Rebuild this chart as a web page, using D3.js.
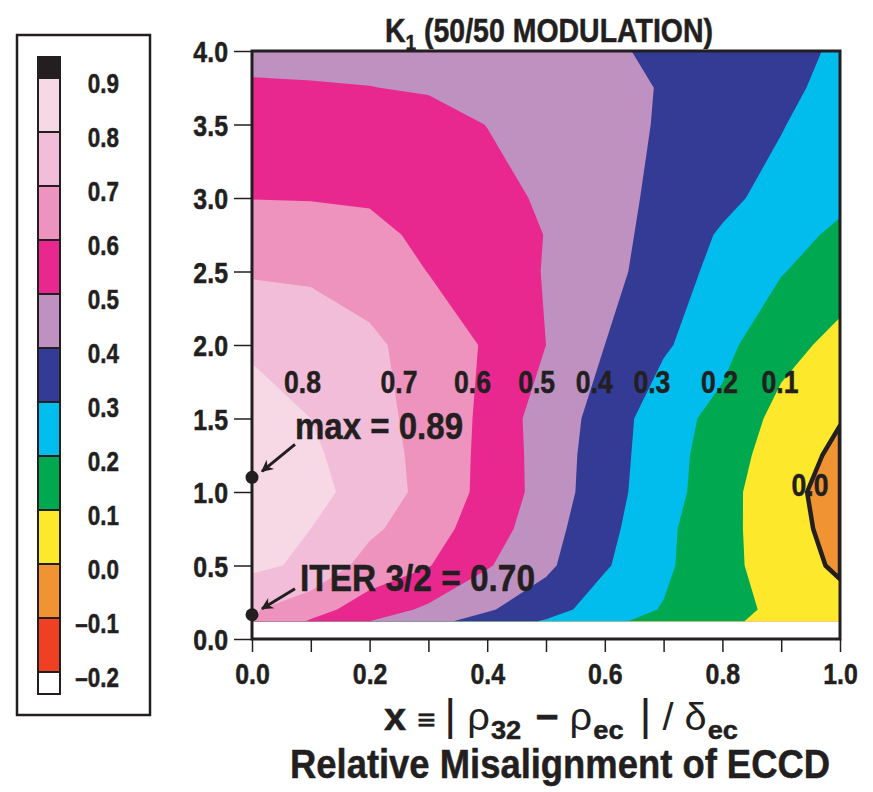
<!DOCTYPE html>
<html>
<head>
<meta charset="utf-8">
<script src="https://cdn.jsdelivr.net/npm/d3@7"></script>
<style>
  html, body { margin: 0; padding: 0; background: #fff; }
  svg text {
    font-family: "Liberation Sans", Arial, Helvetica, sans-serif;
    font-weight: bold;
    fill: #231f20;
    stroke: #231f20;
    stroke-width: 0.5px;
  }
</style>
</head>
<body>
<svg id="chart" width="873" height="792"></svg>
<script>
// grid columns: x = |rho32 - rho_ec| / delta_ec
const xGrid = [0, 0.1, 0.2, 0.3, 0.4, 0.5, 0.6, 0.7, 0.8, 0.9, 1.0];
// grid rows (vertical axis)
const yGrid = [0.12, 0.2, 0.5, 0.75, 1.0, 1.25, 1.5, 2.0, 2.5, 2.75, 3.0, 3.5, 3.75, 4.0];
// K1, one row per yGrid entry
const k1Rows = [
    [0.705, 0.59, 0.50, 0.43, 0.36, 0.29, 0.22, 0.17, 0.115, 0.075, 0.045],
    [0.71, 0.639, 0.552, 0.483, 0.41, 0.343, 0.25, 0.194, 0.13, 0.08, 0.05],
    [0.82, 0.782, 0.66, 0.605, 0.509, 0.42, 0.31, 0.22, 0.12, 0.067, -0.022],
    [0.855, 0.80, 0.72, 0.64, 0.551, 0.438, 0.329, 0.222, 0.13, 0.044, -0.037],
    [0.885, 0.83, 0.76, 0.668, 0.571, 0.46, 0.34, 0.24, 0.14, 0.026, -0.033],
    [0.875, 0.82, 0.737, 0.675, 0.571, 0.458, 0.349, 0.24, 0.151, 0.049, -0.021],
    [0.845, 0.80, 0.74, 0.66, 0.58, 0.447, 0.369, 0.231, 0.177, 0.067, 0.005],
    [0.785, 0.775, 0.72, 0.655, 0.59, 0.50, 0.40, 0.315, 0.225, 0.135, 0.07],
    [0.69, 0.68, 0.655, 0.598, 0.55, 0.495, 0.44, 0.34, 0.275, 0.205, 0.15],
    [0.645, 0.64, 0.625, 0.579, 0.54, 0.498, 0.45, 0.35, 0.291, 0.225, 0.187],
    [0.598, 0.596, 0.59, 0.575, 0.54, 0.483, 0.43, 0.38, 0.32, 0.27, 0.215],
    [0.565, 0.562, 0.555, 0.54, 0.498, 0.46, 0.425, 0.393, 0.36, 0.305, 0.25],
    [0.512, 0.508, 0.502, 0.49, 0.47, 0.45, 0.42, 0.396, 0.37, 0.33, 0.26],
    [0.47, 0.468, 0.465, 0.46, 0.455, 0.44, 0.415, 0.382, 0.355, 0.32, 0.291],
];

// contour levels and the colour of the band starting at each level
const levels = [-0.2, -0.1, 0.0, 0.1, 0.2, 0.3, 0.4, 0.5, 0.6, 0.7, 0.8, 0.9];
const levelColors = ["#ee4123", "#f09433", "#fde82c", "#00a84f", "#00bdee", "#343b95",
    "#bf91c1", "#e9288f", "#ed93bd", "#f2bdd8", "#f7d9e5", "#231f20"];
const belowColor = "#ffffff";

const yTicks = [0, 0.5, 1.0, 1.5, 2.0, 2.5, 3.0, 3.5, 4.0];
const xTicks = [0, 0.1, 0.2, 0.3, 0.4, 0.5, 0.6, 0.7, 0.8, 0.9, 1.0];
const xTickLabels = [0, 0.2, 0.4, 0.6, 0.8, 1.0];

const contourLabels = ["0.8", "0.7", "0.6", "0.5", "0.4", "0.3", "0.2", "0.1", "0.0"];
const contourLabelX = [0.086, 0.25, 0.375, 0.484, 0.582, 0.68, 0.795, 0.898, 0.949];
const contourLabelY = [1.673, 1.673, 1.673, 1.673, 1.673, 1.673, 1.673, 1.673, 0.973];

const markers = [
    { text: "max = 0.89", x: 0, y: 1.10 },
    { text: "ITER 3/2 = 0.70", x: 0, y: 0.165 },
];

const ink = "#231f20";
const narrowFactor = 0.83; // condensed look from a regular-width face
const svg = d3.select("#chart");

const x = d3.scaleLinear().domain([0, 1]).range([252, 840]);
const y = d3.scaleLinear().domain([0, 4]).range([639, 51]);

svg.append("defs").append("clipPath").attr("id", "plotClip")
    .append("rect")
    .attr("x", x(0)).attr("y", y(4))
    .attr("width", x(1) - x(0)).attr("height", y(0) - y(4));

// ---- contour fill ----
const nx = xGrid.length, ny = yGrid.length;
const values = k1Rows.flat();

// grid index space -> data space (sample i sits at i + 0.5)
function gridToData(arr, c) {
    const t = c - 0.5;
    if (t <= 0) return arr[0];
    if (t >= arr.length - 1) return arr[arr.length - 1];
    const i = Math.floor(t);
    return arr[i] + (t - i) * (arr[i + 1] - arr[i]);
}
const toPixels = d3.geoTransform({
    point(cx, cy) {
        this.stream.point(x(gridToData(xGrid, cx)), y(gridToData(yGrid, cy)));
    },
});
const path = d3.geoPath(toPixels);

const bands = d3.contours().size([nx, ny]).thresholds(levels)(values);

const plot = svg.append("g").attr("clip-path", "url(#plotClip)");
plot.selectAll("path.band")
    .data(bands)
    .join("path")
    .attr("class", "band")
    .attr("d", path)
    .attr("fill", (d, i) => levelColors[i]);

// zero contour as a thick line (region where K1 <= 0)
const zeroRegion = d3.contours().size([nx, ny]).thresholds([0])(values.map((v) => -v));
plot.selectAll("path.zero")
    .data(zeroRegion)
    .join("path")
    .attr("class", "zero")
    .attr("d", path)
    .attr("fill", "none")
    .attr("stroke", ink)
    .attr("stroke-width", 4.5)
    .attr("stroke-linejoin", "round");

// ---- axes ----
const yAxis = svg.append("g")
    .attr("transform", `translate(${x(0)},0)`)
    .call(d3.axisLeft(y).tickValues(yTicks).tickFormat(d3.format(".1f")).tickSize(18).tickPadding(6));
yAxis.select(".domain").remove();
yAxis.selectAll(".tick line").attr("stroke", ink).attr("stroke-width", 1.5);
yAxis.selectAll(".tick text").attr("font-size", 30).attr("dy", "0.36em");

const xAxis = svg.append("g")
    .attr("transform", `translate(0,${y(0)})`)
    .call(d3.axisBottom(x).tickValues(xTicks).tickSize(13).tickPadding(11)
        .tickFormat((d) => xTickLabels.some((v) => Math.abs(v - d) < 1e-9) ? d3.format(".1f")(d) : ""));
xAxis.select(".domain").remove();
xAxis.selectAll(".tick line").attr("stroke", ink).attr("stroke-width", 1.5);
xAxis.selectAll(".tick text").attr("font-size", 30);

svg.append("rect")
    .attr("x", x(0)).attr("y", y(4))
    .attr("width", x(1) - x(0)).attr("height", y(0) - y(4))
    .attr("fill", "none").attr("stroke", ink).attr("stroke-width", 3);

// ---- contour labels ----
svg.append("g").selectAll("text")
    .data(contourLabels)
    .join("text")
    .attr("x", (d, i) => x(contourLabelX[i]))
    .attr("y", (d, i) => y(contourLabelY[i]))
    .attr("text-anchor", "middle")
    .attr("font-size", 32)
    .text((d) => d);

// ---- markers with arrows ----
svg.append("defs").append("marker")
    .attr("id", "arrowHead")
    .attr("viewBox", "0 0 10 10")
    .attr("refX", 9).attr("refY", 5)
    .attr("markerWidth", 16).attr("markerHeight", 12)
    .attr("markerUnits", "userSpaceOnUse")
    .attr("orient", "auto")
    .append("path").attr("d", "M0,0 L10,5 L0,10 L3,5 Z").attr("fill", ink);

const mk = svg.append("g");
markers.forEach((m, i) => {
    const px = x(m.x), py = y(m.y);
    mk.append("circle").attr("cx", px).attr("cy", py).attr("r", 6.5).attr("fill", ink);
    mk.append("line")
        .attr("x1", px + 43).attr("y1", py - (i === 0 ? 33 : 26))
        .attr("x2", px + 10).attr("y2", py - 6)
        .attr("stroke", ink).attr("stroke-width", 3)
        .attr("marker-end", "url(#arrowHead)");
    mk.append("text")
        .attr("x", i === 0 ? px + 43 : px + 48)
        .attr("y", i === 0 ? py - 38 : py - 24)
        .attr("font-size", i === 0 ? 36 : 37)
        .attr("textLength", i === 0 ? 168 : 235)
        .attr("lengthAdjust", "spacingAndGlyphs")
        .text(m.text);
});

// ---- title ----
const title = svg.append("text")
    .attr("x", 549).attr("y", 42)
    .attr("text-anchor", "middle")
    .attr("font-size", 33)
    .attr("textLength", 328)
    .attr("lengthAdjust", "spacingAndGlyphs");
title.append("tspan").text("K");
title.append("tspan").attr("font-size", 22).attr("dy", 8).text("1");
title.append("tspan").attr("dy", -8).text(" (50/50 MODULATION)");

// ---- x-axis title ----
const formula = svg.append("text")
    .attr("x", 384).attr("y", 730)
    .attr("font-size", 38)
    .attr("textLength", 354)
    .attr("lengthAdjust", "spacingAndGlyphs");
formula.append("tspan").text("x ");
formula.append("tspan").attr("font-size", 30).text("\u2261 ");
formula.append("tspan").attr("font-weight", "normal").attr("stroke-width", 0).attr("font-size", 44).text("|");
formula.append("tspan").attr("font-weight", "normal").attr("stroke-width", 0).text(" \u03c1");
formula.append("tspan").attr("font-size", 26).attr("dy", 9).attr("dx", 1).text("32");
formula.append("tspan").attr("dy", -9).attr("dx", 3).text(" \u2212 ");
formula.append("tspan").attr("font-weight", "normal").attr("stroke-width", 0).text("\u03c1");
formula.append("tspan").attr("font-size", 26).attr("dy", 9).attr("dx", 1).text("ec");
formula.append("tspan").attr("dy", -9).attr("dx", 3).attr("font-weight", "normal").attr("stroke-width", 0).attr("font-size", 44).text("  |");
formula.append("tspan").attr("font-weight", "normal").attr("stroke-width", 0).text(" / \u03b4");
formula.append("tspan").attr("font-size", 26).attr("dy", 9).attr("dx", 1).text("ec");

svg.append("text")
    .attr("x", 560).attr("y", 778)
    .attr("text-anchor", "middle")
    .attr("font-size", 41)
    .attr("textLength", 540)
    .attr("lengthAdjust", "spacingAndGlyphs")
    .text("Relative Misalignment of ECCD");

// ---- colour legend ----
const ly = d3.scaleLinear().domain([-0.2, 0.9]).range([672, 78]);
const lg = svg.append("g");
lg.append("rect")
    .attr("x", 17).attr("y", 35).attr("width", 133).attr("height", 680)
    .attr("fill", "none").attr("stroke", ink).attr("stroke-width", 2.5);

const cells = levels.map((lv, i) => ({
    top: i < levels.length - 1 ? ly(levels[i + 1]) : ly(lv) - 21,
    bottom: ly(lv),
    color: levelColors[i],
}));
cells.push({ top: ly(levels[0]), bottom: ly(levels[0]) + 22, color: belowColor });

lg.selectAll("rect.cell")
    .data(cells)
    .join("rect")
    .attr("class", "cell")
    .attr("x", 38).attr("width", 22)
    .attr("y", (d) => d.top)
    .attr("height", (d) => d.bottom - d.top)
    .attr("fill", (d) => d.color)
    .attr("stroke", ink).attr("stroke-width", 2);

lg.selectAll("text")
    .data(levels)
    .join("text")
    .attr("x", 119)
    .attr("y", (d) => ly(d) + 15)
    .attr("text-anchor", "end")
    .attr("font-size", 27)
    .text((d) => (d < 0 ? "\u2013" : "") + Math.abs(d).toFixed(1));

// squeeze every remaining text to a condensed width
svg.selectAll("text").each(function () {
    if (this.hasAttribute("textLength")) return;
    const len = this.getComputedTextLength();
    if (len > 0) {
        d3.select(this)
            .attr("textLength", len * narrowFactor)
            .attr("lengthAdjust", "spacingAndGlyphs");
    }
});
</script>
</body>
</html>
